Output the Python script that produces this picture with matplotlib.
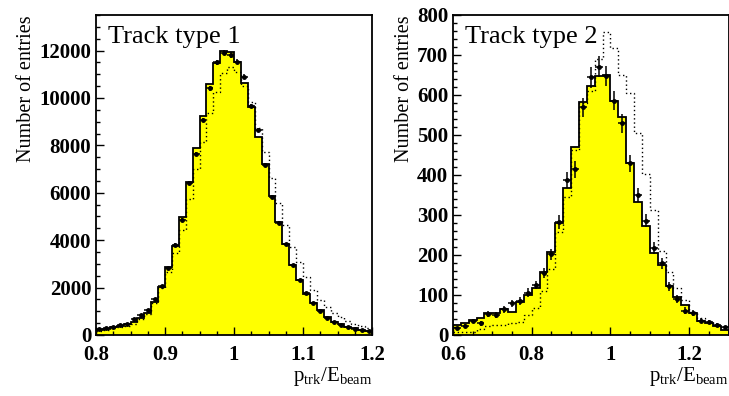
import numpy as np
import matplotlib
matplotlib.use("Agg")
import matplotlib.pyplot as plt
from matplotlib.ticker import MultipleLocator, FormatStrFormatter

plt.rcParams["font.family"] = "Liberation Serif"
plt.rcParams["mathtext.fontset"] = "custom"
plt.rcParams["mathtext.rm"] = "Liberation Serif"
plt.rcParams["mathtext.it"] = "Liberation Serif:italic"

# --- track type 1: 40 bins, 0.80 .. 1.20 ---
edges1 = np.linspace(0.8, 1.2, 41)
mc1 = [210, 250, 320, 390, 460, 560, 700, 940, 1400, 2010,
       2850, 3770, 4990, 6450, 7870, 9240, 10590, 11490, 11980, 11950,
       11530, 10640, 9630, 8340, 7200, 5860, 4780, 3840, 2950, 2320,
       1730, 1340, 1050, 745, 560, 450, 350, 280, 210, 170]
data1 = [270, 280, 340, 410, 460, 660, 830, 1050, 1500, 2070,
         2810, 3810, 4850, 6430, 7630, 9070, 10400, 11500, 11910, 11810,
         11530, 10900, 9660, 8650, 7170, 5830, 4740, 3840, 2950, 2320,
         1760, 1340, 1020, 730, 530, 420, 350, 270, 190, 170]
alt1 = [180, 220, 280, 340, 400, 480, 660, 890, 1340, 1970,
        2670, 3470, 4430, 5720, 6990, 8160, 9380, 10270, 11040, 11320,
        11100, 10500, 9840, 8720, 7730, 6610, 5580, 4640, 3730, 3090,
        2460, 1900, 1480, 1200, 940, 745, 590, 465, 380, 280]

# --- track type 2: 35 bins, 0.60 .. 1.30 ---
edges2 = np.linspace(0.6, 1.3, 36)
mc2 = [25, 29, 37, 43, 54, 54, 64, 58, 83, 100,
       117, 158, 207, 279, 368, 471, 582, 623, 648, 650,
       586, 544, 431, 333, 272, 206, 175, 122, 94, 75,
       54, 36, 29, 22, 12]
data2 = [17, 22, 35, 29, 52, 50, 64, 79, 85, 106,
         125, 156, 202, 283, 387, 414, 569, 644, 671, 648,
         586, 529, 429, 350, 286, 217, 179, 122, 90, 61,
         56, 36, 32, 25, 19]
alt2 = [8, 8, 8, 15, 22, 25, 25, 29, 33, 50,
        68, 110, 165, 258, 346, 462, 579, 610, 690, 758,
        717, 650, 604, 504, 402, 312, 211, 158, 117, 87,
        58, 42, 33, 25, 19]


def draw(ax, edges, mc, data, alt, label):
    mc = np.asarray(mc, float); data = np.asarray(data, float); alt = np.asarray(alt, float)
    centers = 0.5 * (edges[1:] + edges[:-1]); half = 0.5 * np.diff(edges)
    ax.stairs(mc, edges, fill=True, color="#ffff00", zorder=1)
    ax.stairs(mc, edges, color="black", lw=1.3, zorder=2)
    ax.stairs(alt, edges, color="black", lw=1.0, ls=(0, (1, 2)), baseline=None, zorder=3)
    ax.errorbar(centers, data, xerr=half, yerr=np.sqrt(data), fmt="o", ms=2.5,
                color="black", elinewidth=1.1, capsize=0, zorder=4)
    ax.text(0.043, 0.913, label, transform=ax.transAxes, fontsize=19, va="baseline")
    ax.set_xlim(edges[0], edges[-1])
    ax.tick_params(which="both", direction="in", top=False, right=False,
                   labelsize=15, width=1.0)
    ax.tick_params(which="major", length=6)
    ax.tick_params(which="minor", length=3)
    ax.tick_params(axis="x", pad=7)
    for s in ax.spines.values():
        s.set_linewidth(1.3)
        s.set_zorder(5)
    ax.set_xlabel(r"$\mathrm{p_{trk}/E_{beam}}$", fontsize=15, loc="right", labelpad=0)
    ax.set_ylabel("Number of entries", fontsize=14.5, loc="top", labelpad=2)
    ax.xaxis.set_major_formatter(FormatStrFormatter("%g"))


fig = plt.figure(figsize=(7.29, 3.96), dpi=100)
ax1 = fig.add_axes([96 / 729, 61 / 396, 276 / 729, 320 / 396])
ax2 = fig.add_axes([453 / 729, 61 / 396, 275.5 / 729, 320 / 396])

draw(ax1, edges1, mc1, data1, alt1, "Track type 1")
ax1.set_ylim(0, 13500)
ax1.xaxis.set_major_locator(MultipleLocator(0.1))
ax1.xaxis.set_minor_locator(MultipleLocator(0.025))
ax1.yaxis.set_major_locator(MultipleLocator(2000))
ax1.yaxis.set_minor_locator(MultipleLocator(500))

draw(ax2, edges2, mc2, data2, alt2, "Track type 2")
ax2.set_ylim(0, 800)
ax2.xaxis.set_major_locator(MultipleLocator(0.2))
ax2.xaxis.set_minor_locator(MultipleLocator(0.05))
ax2.yaxis.set_major_locator(MultipleLocator(100))
ax2.yaxis.set_minor_locator(MultipleLocator(20))

for ax in (ax1, ax2):
    for t in ax.get_xticklabels() + ax.get_yticklabels():
        t.set_fontweight("bold")

fig.savefig("out.png", dpi=100)
